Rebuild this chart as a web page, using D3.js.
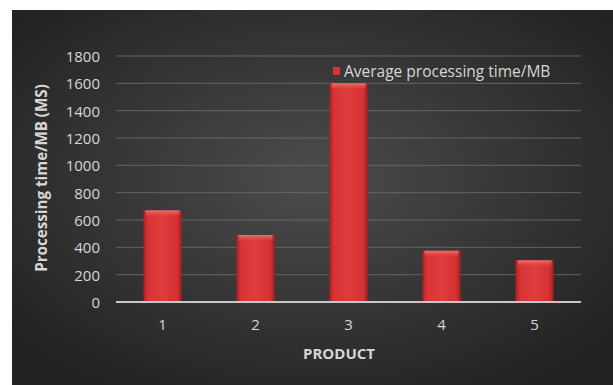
<!DOCTYPE html>
<html><head><meta charset="utf-8">
<script src="https://cdn.jsdelivr.net/npm/d3@7"></script>
<style>html,body{margin:0;padding:0;background:#fff;}svg{display:block;}</style>
</head><body>
<svg id="c" width="613" height="385"></svg>
<script>
const categories = ["1","2","3","4","5"];
const values = [670, 490, 1600, 375, 305];
const yTicks = [0,200,400,600,800,1000,1200,1400,1600,1800];
const seriesName = "Average processing time/MB";
const yTitle = "Processing time/MB (MS)";
const xTitle = "PRODUCT";

(function(){
const svg = d3.select("#c");
const defs = svg.append("defs");
const bg = defs.append("radialGradient").attr("id","bg").attr("cx","50%").attr("cy","45%").attr("r","65%");
bg.append("stop").attr("offset","0%").attr("stop-color","#4c4c4c");
bg.append("stop").attr("offset","100%").attr("stop-color","#222222");
const bar = defs.append("linearGradient").attr("id","bar").attr("x1","0").attr("x2","1").attr("y1","0").attr("y2","0");
[["0%","#a81f22"],["12%","#d83436"],["50%","#de3c3d"],["88%","#d63133"],["100%","#a51d20"]].forEach(s=>bar.append("stop").attr("offset",s[0]).attr("stop-color",s[1]));
const cap = defs.append("linearGradient").attr("id","cap").attr("x1","0").attr("x2","0").attr("y1","0").attr("y2","1");
cap.append("stop").attr("offset","0%").attr("stop-color","#f07070");
cap.append("stop").attr("offset","100%").attr("stop-color","#e04040").attr("stop-opacity","0");

svg.append("rect").attr("x",12).attr("y",10).attr("width",601).attr("height",375).attr("fill","url(#bg)");

const pL = 116, pR = 581, pT = 56, pB = 302;
const x = d3.scaleBand().domain(categories).range([pL,pR]).paddingInner(0.59).paddingOuter(0.295);
const y = d3.scaleLinear().domain([0,1800]).range([pB,pT]);
const font = "'Open Sans', sans-serif";
const txt = "#d6d6d6";

// gridlines
svg.append("g").selectAll("line").data(yTicks.filter(t=>t>0)).join("line")
  .attr("x1",pL).attr("x2",pR).attr("y1",d=>y(d)).attr("y2",d=>y(d))
  .attr("stroke","#646464").attr("stroke-width",1);

// y axis labels
const yAxis = d3.axisLeft(y).tickValues(yTicks).tickFormat(d3.format("d")).tickSize(0).tickPadding(0);
const ga = svg.append("g").attr("transform",`translate(${pL-16},0)`).call(yAxis);
ga.select(".domain").remove();
ga.selectAll("text").attr("fill",txt).attr("font-family",font).attr("font-size",15).attr("dy","0.36em");

// bars
const bars = svg.append("g");
bars.selectAll("rect.b").data(values).join("rect").attr("class","b")
  .attr("x",(d,i)=>x(categories[i])).attr("width",x.bandwidth())
  .attr("y",d=>y(d)).attr("height",d=>pB-y(d)).attr("fill","url(#bar)");
bars.selectAll("rect.c").data(values).join("rect").attr("class","c")
  .attr("x",(d,i)=>x(categories[i])+2).attr("width",x.bandwidth()-4)
  .attr("y",d=>y(d)).attr("height",7).attr("fill","url(#cap)");

// x axis
svg.append("line").attr("x1",pL).attr("x2",pR).attr("y1",pB).attr("y2",pB)
  .attr("stroke","#c8c8c8").attr("stroke-width",2.2);
const xAxis = d3.axisBottom(x).tickSize(0).tickPadding(0);
const gx = svg.append("g").attr("transform",`translate(0,${pB+17})`).call(xAxis);
gx.select(".domain").remove();
gx.selectAll("text").attr("fill",txt).attr("font-family",font).attr("font-size",15).attr("dy","0.71em");

// titles
svg.append("text").attr("x",339).attr("y",359).attr("text-anchor","middle")
  .attr("fill",txt).attr("font-family",font).attr("font-weight","bold").attr("font-size",15)
  .text(xTitle);
svg.append("text").attr("transform","translate(47,178) rotate(-90)").attr("text-anchor","middle")
  .attr("fill",txt).attr("font-family",font).attr("font-weight","bold").attr("font-size",15.2)
  .text(yTitle);

// legend
svg.append("rect").attr("x",333).attr("y",67).attr("width",7).attr("height",8).attr("fill","#d83436");
svg.append("text").attr("x",344).attr("y",77).attr("fill",txt)
  .attr("font-family",font).attr("font-size",15.5).text(seriesName);
})();
</script>
</body></html>
